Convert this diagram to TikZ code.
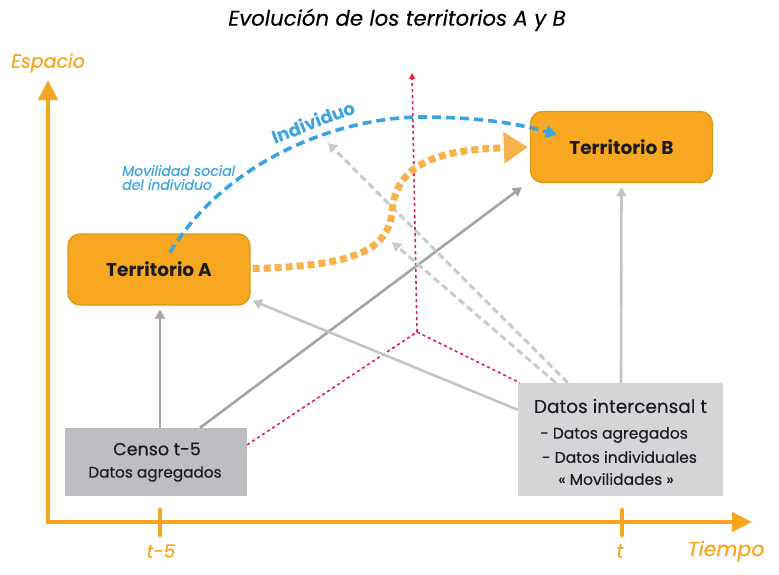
\documentclass[tikz,border=0pt]{standalone}
\usepackage{fontspec}
\setmainfont{Poppins}[UprightFeatures={FakeBold=0.25},ItalicFeatures={FakeBold=0.25}]
\usetikzlibrary{arrows.meta,calc}
\definecolor{axor}{HTML}{F8A51E}
\definecolor{boxor}{HTML}{F8A820}
\definecolor{boxbd}{HTML}{DC961C}
\definecolor{curvor}{HTML}{F8B24C}
\definecolor{gdark}{HTML}{A3A4A8}
\definecolor{glight}{HTML}{C3C4C7}
\definecolor{gdash}{HTML}{C9CACC}
\definecolor{censofill}{HTML}{BDBEC1}
\definecolor{interfill}{HTML}{D4D5D7}
\definecolor{redd}{HTML}{EC1846}
\definecolor{blued}{HTML}{3BA3DF}
\definecolor{txt}{HTML}{1B1B1F}
\newcommand{\fsz}[1]{\fontsize{#1}{#1}\selectfont}
\begin{document}
\begin{tikzpicture}[x=1pt,y=-1pt,
  terr/.style={draw=boxbd,line width=1.3pt,fill=boxor,rounded corners=12pt,minimum width=182pt,minimum height=71pt,font=\fsz{18.5}\bfseries,text=txt,inner sep=0pt},
  censobox/.style={fill=censofill,minimum width=182pt,minimum height=68pt,inner sep=0pt},
  interbox/.style={fill=interfill,minimum width=205pt,minimum height=113pt,inner sep=0pt},
  axis/.style={axor,line width=4.5pt,-{Triangle[length=20pt,width=19pt]}},
  tick/.style={axor,line width=4.5pt,line cap=round},
  axlab/.style={text=axor,font=\fsz{19}\itshape},
  gsolid/.style={line width=2.6pt,-{Triangle[length=9pt,width=10pt]}},
  gdashed/.style={gdash,line width=3pt,dash pattern=on 7pt off 4pt,-{Triangle[length=9pt,width=10pt]}},
  reddot/.style={redd,line width=1.6pt,dash pattern=on 3pt off 3pt},
]
\useasboundingbox (0,0) rectangle (779,574);
% title
\node[font=\fsz{21.3}\itshape,text=black] (title) at (397,20) {Evolución de los territorios A y B};
% axes
\coordinate (O) at (48,522);
\coordinate (ytip) at (48,80);
\coordinate (xtip) at (752,522);
\draw[axis] (O) -- (ytip);
\draw[axis] ([xshift=-2.25pt]O) -- (xtip);
\node[axlab] (esp) at (48,63) {Espacio};
\coordinate (t5a) at (160,510); \coordinate (t5b) at (160,535);
\coordinate (ta) at (622,510); \coordinate (tb) at (622,535);
\draw[tick] (t5a) -- (t5b);
\draw[tick] (ta) -- (tb);
\node[axlab,font=\fsz{18.5}\itshape] (t5lab) at (161,551) {t-5};
\node[axlab] (tlab) at (620,551) {t};
\node[axlab,font=\fsz{20.5}\itshape] (tiempo) at (726,551) {Tiempo};
% boxes
\node[terr] (A) at (159,269.5) {Territorio A};
\node[terr] (B) at (621.5,147) {Territorio B};
\node[censobox] (C) at (156,462) {};
\node[text=txt,font=\fsz{17.5}] (Ct) at (157,449) {Censo t-5};
\node[text=txt,font=\fsz{15.3}] (C1) at (155,474) {Datos agregados};
\node[interbox] (D) at (620.5,439.5) {};
\node[text=txt,font=\fsz{18.5}] (Dt) at (620.5,406) {Datos intercensal t};
\node[text=txt,font=\fsz{15.5}] (D1) at (614,435) {- Datos agregados};
\node[text=txt,font=\fsz{15.5}] (D2) at (619.5,457) {- Datos individuales};
\node[text=txt,font=\fsz{15.5}] (D3) at (616,479) {« Movilidades »};
% red dotted frame
\coordinate (corner) at (417,332);
\coordinate (redtip) at (412,73);
\draw[reddot] ($(C.north east)+(0,17)$) -- (corner) -- ($(D.north west)+(2,0)$);
\draw[reddot,-{Triangle[length=6pt,width=6pt]}] (corner) -- (redtip);
% grey solid arrows
\draw[gsolid,gdark] ($(C.north)+(4,0)$) -- ($(A.south)+(1,4)$);
\draw[gsolid,gdark] ($(C.north)+(44,0)$) -- ($(B.south west)+(-8,4)$);
\draw[gsolid,glight] ($(D.north west)+(0,27)$) -- ($(A.south east)+(2,-5)$);
\draw[gsolid,glight] ($(D.north)+(0.5,0)$) -- ($(B.south)+(0,4)$);
% grey dashed arrows
\coordinate (g1) at (392,242);
\coordinate (g2) at (328,143);
\draw[gdashed] ($(D.north west)+(38,0)$) -- (g1);
\draw[gdashed] ($(D.north west)+(50,0)$) -- (g2);
% orange curve
\draw[curvor,line width=7pt,dash pattern=on 7pt off 4pt,-{Triangle[length=24pt,width=30pt]}]
  ($(A.east)+(2,-1)$) .. controls (350,266) and (388,252) .. (392,212)
  .. controls (396,162) and (440,150) .. ($(B.west)+(-2,0)$);
% blue curve
\draw[blued,line width=3.6pt,dash pattern=on 9pt off 5pt,-{Triangle[length=11pt,width=12pt]}]
  ($(A.north)+(11,19)$) .. controls (225,162) and (335,118) .. (420,117)
  .. controls (480,117) and (520,124) .. ($(B.north west)+(27,24)$);
\node[text=blued,font=\fsz{18}\bfseries,rotate=21] (ind) at (313,122) {Individuo};
\node[text=blued,font=\fsz{14}\itshape,align=left,anchor=north west,inner sep=0pt] (mov) at (122,165) {Movilidad social\\[0pt]del individuo};
\end{tikzpicture}
\end{document}
